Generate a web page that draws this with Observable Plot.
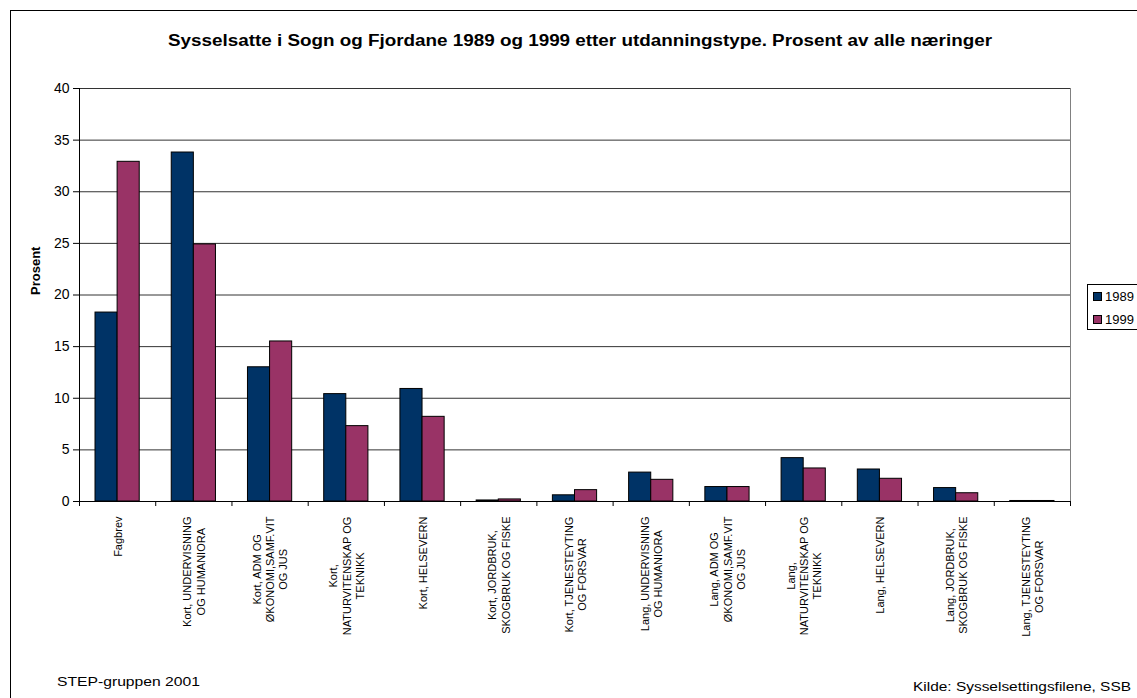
<!DOCTYPE html>
<html>
<head>
<meta charset="utf-8">
<script src="https://cdn.jsdelivr.net/npm/d3@7"></script>
<script src="https://cdn.jsdelivr.net/npm/@observablehq/plot@0.6"></script>
<style>
html, body { margin: 0; padding: 0; background: #fff; overflow: hidden; }
#wrap { position: relative; width: 1137px; height: 698px; overflow: hidden; font-family: "Liberation Sans", Arial, sans-serif; color: #000; }
#frame { position: absolute; left: 10px; top: 10px; width: 1400px; height: 1000px; border: 1px solid #000; box-sizing: border-box; }
.t { position: absolute; white-space: nowrap; line-height: 1; transform-origin: 0 0; }
#chart { position: absolute; left: 0; top: 60px; }
#legend { position: absolute; left: 1087px; top: 284px; width: 90px; height: 46px; border: 1px solid #000; box-sizing: border-box; background: #fff; }
.sw { position: absolute; width: 9px; height: 9px; border: 1px solid #000; box-sizing: border-box; }
</style>
</head>
<body>
<div id="wrap">
  <div id="frame"></div>
  <div id="title" class="t" style="font-weight:bold;font-size:16px;"></div>
  <div id="chart"></div>
  <div id="legend"></div>
  <div id="foot1" class="t" style="font-size:12px;"></div>
  <div id="foot2" class="t" style="font-size:12px;"></div>
</div>
<script>
// ---- data ----
const titleText = "Sysselsatte i Sogn og Fjordane 1989 og 1999 etter utdanningstype. Prosent av alle næringer";
const yLabel = "Prosent";
const footLeft = "STEP-gruppen 2001";
const footRight = "Kilde: Sysselsettingsfilene, SSB";
const years = ["1989", "1999"];
const yearColors = ["#003366", "#993366"];
const categories = [
  "Fagbrev",
  "Kort, UNDERVISNING OG HUMANIORA",
  "Kort, ADM OG ØKONOMI,SAMF.VIT OG JUS",
  "Kort, NATURVITENSKAP OG TEKNIKK",
  "Kort, HELSEVERN",
  "Kort, JORDBRUK, SKOGBRUK OG FISKE",
  "Kort, TJENESTEYTING OG FORSVAR",
  "Lang, UNDERVISNING OG HUMANIORA",
  "Lang, ADM OG ØKONOMI,SAMF.VIT OG JUS",
  "Lang, NATURVITENSKAP OG TEKNIKK",
  "Lang, HELSEVERN",
  "Lang, JORDBRUK, SKOGBRUK OG FISKE",
  "Lang, TJENESTEYTING OG FORSVAR"
];
const labelLines = [
  ["Fagbrev"],
  ["Kort, UNDERVISNING", "OG HUMANIORA"],
  ["Kort, ADM OG", "ØKONOMI,SAMF.VIT", "OG JUS"],
  ["Kort,", "NATURVITENSKAP OG", "TEKNIKK"],
  ["Kort, HELSEVERN"],
  ["Kort, JORDBRUK,", "SKOGBRUK OG FISKE"],
  ["Kort, TJENESTEYTING", "OG FORSVAR"],
  ["Lang, UNDERVISNING", "OG HUMANIORA"],
  ["Lang, ADM OG", "ØKONOMI,SAMF.VIT", "OG JUS"],
  ["Lang,", "NATURVITENSKAP OG", "TEKNIKK"],
  ["Lang, HELSEVERN"],
  ["Lang, JORDBRUK,", "SKOGBRUK OG FISKE"],
  ["Lang, TJENESTEYTING", "OG FORSVAR"]
];
const values1989 = [18.3, 33.8, 13.0, 10.4, 10.9, 0.1, 0.6, 2.8, 1.4, 4.2, 3.1, 1.3, 0.05];
const values1999 = [32.9, 24.9, 15.5, 7.3, 8.2, 0.2, 1.1, 2.1, 1.4, 3.2, 2.2, 0.8, 0.05];
const yTicks = [0, 5, 10, 15, 20, 25, 30, 35, 40];

// ---- build ----
const rows1989 = categories.map((c, i) => ({category: c, year: years[0], value: values1989[i]}));
const rows1999 = categories.map((c, i) => ({category: c, year: years[1], value: values1999[i]}));

const W = 1137, H = 638;
const mL = 79, mR = 67, mT = 28, mB = 197;
const pIn = 0.42, pOut = 0.21;
const step = (W - mL - mR) / (categories.length - pIn + 2 * pOut);
const half = step * (1 - pIn) / 2;

const ctx = document.createElement("canvas").getContext("2d");
ctx.font = "11px 'Liberation Sans'";
const labelMarks = categories.map((c, i) => {
  const lines = labelLines[i];
  const maxW = Math.max(...lines.map(l => ctx.measureText(l).width));
  return Plot.text([c], {
    x: d => d, text: () => lines.join("\n"),
    frameAnchor: "bottom", rotate: -90, textAnchor: "middle", lineAnchor: "middle",
    lineHeight: 1.2, fontSize: 11, fill: "#000", dy: 15 + maxW / 2
  });
});

const plot = Plot.plot({
  width: W, height: H,
  marginLeft: mL, marginRight: mR, marginTop: mT, marginBottom: mB,
  style: {fontFamily: "'Liberation Sans', Arial, sans-serif", fontSize: "13px", color: "#000", background: "transparent", overflow: "visible"},
  x: {type: "band", domain: categories, paddingInner: pIn, paddingOuter: pOut, align: 0.5, round: false, label: null},
  y: {domain: [0, 40], label: null},
  marks: [
    Plot.ruleY(yTicks.filter(d => d > 0), {stroke: "#333", strokeWidth: 1}),
    Plot.frame({anchor: "right", stroke: "#808080"}),
    Plot.barY(rows1989, {x: "category", y: "value", fill: yearColors[0], stroke: "#000", strokeWidth: 1, insetRight: half}),
    Plot.barY(rows1999, {x: "category", y: "value", fill: yearColors[1], stroke: "#000", strokeWidth: 1, insetLeft: half}),
    Plot.ruleY([0], {stroke: "#000"}),
    Plot.frame({anchor: "left", stroke: "#000"}),
    Plot.axisY(yTicks, {tickSize: 6, tickPadding: 4, fontSize: 14, label: null, stroke: "#000", fill: "#000"}),
    Plot.axisX(categories, {tickSize: 5, dx: -step / 2, tickFormat: () => "", label: null, stroke: "#000"}),
    Plot.axisX([categories[categories.length - 1]], {tickSize: 5, dx: step / 2, tickFormat: () => "", label: null, stroke: "#000"}),
    ...labelMarks,
    Plot.text([yLabel], {text: d => d, frameAnchor: "left", dx: -44, rotate: -90, fontWeight: "bold", fontSize: 13, fill: "#000"})
  ]
});
document.getElementById("chart").appendChild(plot);

// ---- text around the chart ----
function place(el, text, left, baseline, fs, width) {
  el.textContent = text;
  el.style.left = left + "px";
  el.style.top = (baseline - 0.8465 * fs) + "px";
  if (width) {
    const w = el.getBoundingClientRect().width;
    el.style.transform = `scaleX(${width / w})`;
  }
}
place(document.getElementById("title"), titleText, 168, 47, 16, 824);
place(document.getElementById("foot1"), footLeft, 57, 686, 12, 143);
place(document.getElementById("foot2"), footRight, 913, 691, 12, 218);

const legend = document.getElementById("legend");
years.forEach((y, i) => {
  const sw = document.createElement("div");
  sw.className = "sw";
  sw.style.left = "5px";
  sw.style.top = (7 + i * 23) + "px";
  sw.style.background = yearColors[i];
  legend.appendChild(sw);
  const t = document.createElement("div");
  t.className = "t";
  t.style.fontSize = "13px";
  t.textContent = y;
  t.style.left = "17px";
  t.style.top = (16 + i * 23 - 0.8465 * 13) + "px";
  legend.appendChild(t);
});
</script>
</body>
</html>
